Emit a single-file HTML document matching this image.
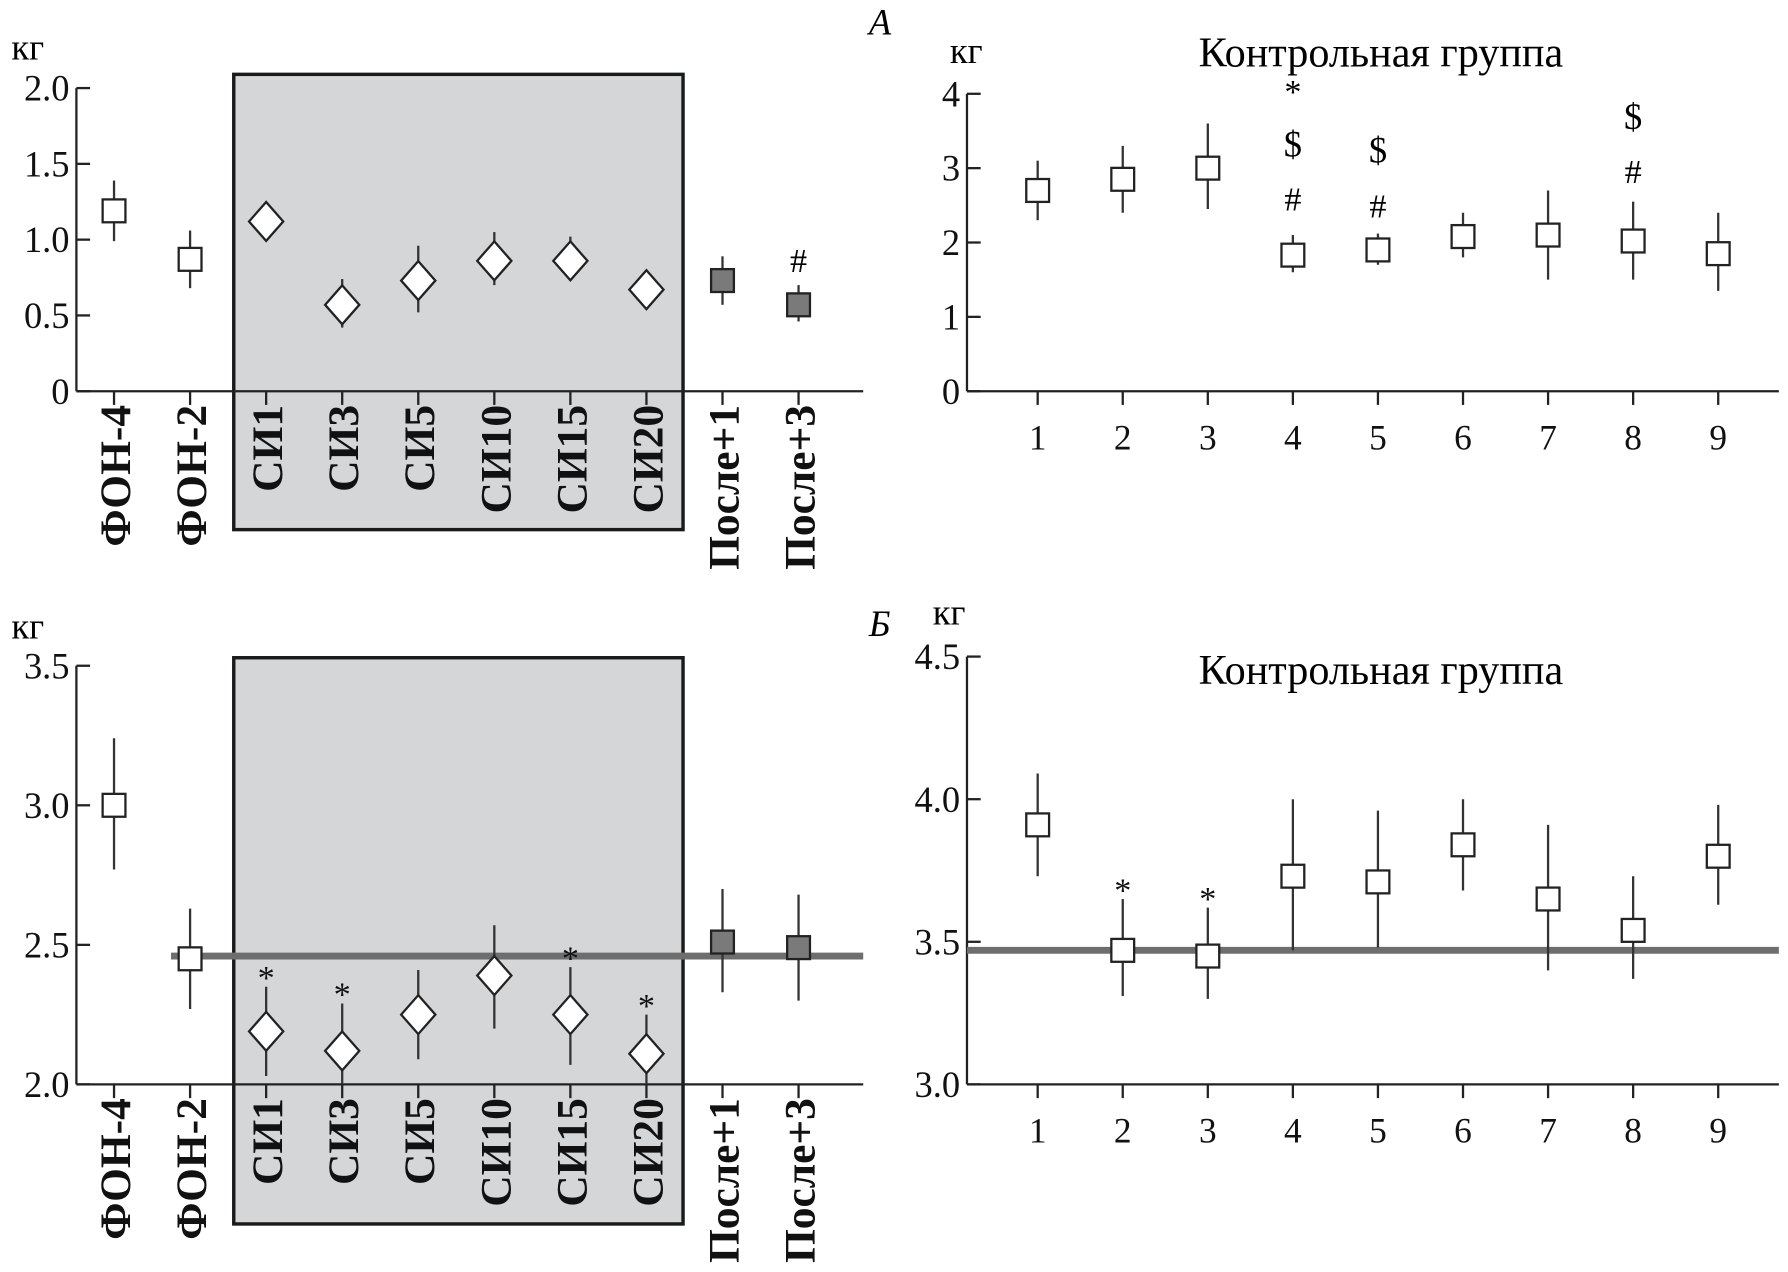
<!DOCTYPE html>
<html><head><meta charset="utf-8">
<style>
html,body{margin:0;padding:0;background:#fff;}
svg{display:block;font-family:"Liberation Serif","DejaVu Serif",serif;}
</style></head>
<body>
<svg id="c" width="1788" height="1272" viewBox="0 0 1568 1112" preserveAspectRatio="none" xmlns="http://www.w3.org/2000/svg"></svg>
<script>
const catsL = ["ФОН-4","ФОН-2","СИ1","СИ3","СИ5","СИ10","СИ15","СИ20","После+1","После+3"];
const typesL = ["sq","sq","dia","dia","dia","dia","dia","dia","fill","fill"];
const aLval = [1.19,0.87,1.12,0.57,0.73,0.86,0.86,0.67,0.73,0.57];
const aLlo  = [0.99,0.68,1.0,0.42,0.52,0.70,0.73,0.60,0.57,0.46];
const aLhi  = [1.39,1.06,1.24,0.74,0.96,1.05,1.02,0.80,0.89,0.70];
const aLyticks = [0,0.5,1.0,1.5,2.0];
const aLytickLabels = ["0","0.5","1.0","1.5","2.0"];
const bLval = [3.0,2.45,2.19,2.12,2.25,2.39,2.25,2.11,2.51,2.49];
const bLlo  = [2.77,2.27,2.03,2.0,2.09,2.2,2.07,2.0,2.33,2.3];
const bLhi  = [3.24,2.63,2.35,2.29,2.41,2.57,2.42,2.25,2.7,2.68];
const bLyticks = [2.0,2.5,3.0,3.5];
const bLytickLabels = ["2.0","2.5","3.0","3.5"];
const bLref = 2.46;
const bLstars = [2,3,6,7];
const catsR = ["1","2","3","4","5","6","7","8","9"];
const aRval = [2.7,2.85,3.0,1.83,1.9,2.08,2.1,2.02,1.85];
const aRlo  = [2.3,2.4,2.45,1.6,1.7,1.8,1.5,1.5,1.35];
const aRhi  = [3.1,3.3,3.6,2.1,2.12,2.4,2.7,2.55,2.4];
const aRyticks = [0,1,2,3,4];
const aRytickLabels = ["0","1","2","3","4"];
const bRval = [3.91,3.47,3.45,3.73,3.71,3.84,3.65,3.54,3.8];
const bRlo  = [3.73,3.31,3.3,3.47,3.48,3.68,3.4,3.37,3.63];
const bRhi  = [4.09,3.65,3.62,4.0,3.96,4.0,3.91,3.73,3.98];
const bRyticks = [3.0,3.5,4.0,4.5];
const bRytickLabels = ["3.0","3.5","4.0","4.5"];
const bRref = 3.47;
const bRstars = [1,2];

const NS="http://www.w3.org/2000/svg";
const svg=document.getElementById('c');
function el(tag,attrs,parent){const e=document.createElementNS(NS,tag);for(const k in attrs)e.setAttribute(k,attrs[k]);(parent||svg).appendChild(e);return e;}
function txt(s,attrs,parent){const e=el('text',attrs,parent);e.textContent=s;return e;}

function panel(o){
  const g=el('g',{});
  
  
  const y=v=>o.y0+(v-o.ymin)/(o.ymax-o.ymin)*(o.y1-o.y0);
  const x=i=>o.x0+i*o.dx;
  if(o.box){const b=el('rect',{x:205,y:o.box[0],width:394,height:o.box[1]-o.box[0],fill:'#d5d6d8',stroke:'#1a1a1a','stroke-width':3},g);
    }
  const ya=el('line',{x1:o.ax,y1:o.y0,x2:o.ax,y2:o.y1top,stroke:'#222','stroke-width':2},g);
  
  const xa=el('line',{x1:o.ax,y1:o.y0,x2:o.xend,y2:o.y0,stroke:'#222','stroke-width':2},g);
  
  o.yt.forEach((v,i)=>{
    el('line',{x1:o.ax,y1:y(v),x2:o.ax+12,y2:y(v),stroke:'#222','stroke-width':2},g);
    const t=txt(o.ytl[i],{x:o.ax-6,y:y(v)+11,'text-anchor':'end','font-size':32,fill:'#111'},g);
    
  });
  o.cats.forEach((c,i)=>{
    el('line',{x1:x(i),y1:o.y0,x2:x(i),y2:o.y0+12,stroke:'#222','stroke-width':2},g);
    let t;
    if(o.rot){t=txt(c,{x:0,y:0,transform:`translate(${x(i)+14},${o.y0+12}) rotate(-90)`,'text-anchor':'end','font-size':38,'font-weight':'bold',fill:'#111'},g);}
    else{t=txt(c,{x:x(i),y:o.y0+51,'text-anchor':'middle','font-size':31,fill:'#111'},g);}
    
  });
  if(o.ref!==undefined){const r=el('line',{x1:o.refx[0],y1:y(o.ref),x2:o.refx[1],y2:y(o.ref),stroke:'#6e6e6e','stroke-width':6},g);
    }
  o.val.forEach((v,i)=>{
    const cx=x(i),cy=y(v);
    const e=el('line',{x1:cx,y1:y(o.lo[i]),x2:cx,y2:y(o.hi[i]),stroke:'#333','stroke-width':2},g);
    
    const t=o.types?o.types[i]:'sq';let m;
    if(t==='dia'){m=el('polygon',{points:`${cx},${cy-17} ${cx+15},${cy} ${cx},${cy+17} ${cx-15},${cy}`,fill:'#fff',stroke:'#222','stroke-width':2},g);}
    else{m=el('rect',{x:cx-10,y:cy-10,width:20,height:20,fill:t==='fill'?'#7a7a7a':'#fff',stroke:'#222','stroke-width':2},g);}
    
  });
  (o.stars||[]).forEach(i=>{const s=txt('*',{x:x(i),y:y(o.hi[i])+2,'text-anchor':'middle','font-size':30,fill:'#111'},g);
    });
  return {x,y,g};
}

const pAL=panel({name:'panel-a-left',ax:67,x0:100,dx:66.7,y0:342,y1:77,y1top:77,ymin:0,ymax:2.0,xend:757,cats:catsL,types:typesL,val:aLval,lo:aLlo,hi:aLhi,yt:aLyticks,ytl:aLytickLabels,rot:true,box:[65,463]});
let t=txt('#',{x:pAL.x(9),y:238,'text-anchor':'middle','font-size':30},pAL.g);

const pAR=panel({name:'panel-a-right',ax:848,x0:910,dx:74.6,y0:342,y1:82,y1top:82,ymin:0,ymax:4,xend:1560,cats:catsR,val:aRval,lo:aRlo,hi:aRhi,yt:aRyticks,ytl:aRytickLabels});
[[3,'*',90],[3,'$',137],[3,'#',184],[4,'$',142],[4,'#',190],[7,'$',113],[7,'#',160]].forEach(a=>{
  const s=txt(a[1],{x:pAR.x(a[0]),y:a[2],'text-anchor':'middle','font-size':a[1]==='$'?32:30},pAR.g);
  });

const pBL=panel({name:'panel-b-left',ax:67,x0:100,dx:66.7,y0:948,y1:582,y1top:582,ymin:2.0,ymax:3.5,xend:757,cats:catsL,types:typesL,val:bLval,lo:bLlo,hi:bLhi,yt:bLyticks,ytl:bLytickLabels,rot:true,box:[575,1070],ref:bLref,refx:[150,757],stars:bLstars});
const pBR=panel({name:'panel-b-right',ax:848,x0:910,dx:74.6,y0:948,y1:574,y1top:574,ymin:3.0,ymax:4.5,xend:1560,cats:catsR,val:bRval,lo:bRlo,hi:bRhi,yt:bRyticks,ytl:bRytickLabels,ref:bRref,refx:[848,1560],stars:bRstars});

[['кг',10,52,'y-axis-unit-a-left'],['кг',833,55,'y-axis-unit-a-right'],['кг',10,558,'y-axis-unit-b-left'],['кг',818,546,'y-axis-unit-b-right']].forEach(a=>{
  const s=txt(a[0],{x:a[1],y:a[2],'font-size':32},svg);});
[['А',762,30,'panel-label-a'],['Б',762,556,'panel-label-b']].forEach(a=>{
  const s=txt(a[0],{x:a[1],y:a[2],'font-size':32,'font-style':'italic'},svg);});
[['Контрольная группа',1211,58,'chart-title-a'],['Контрольная группа',1211,598,'chart-title-b']].forEach(a=>{
  const s=txt(a[0],{x:a[1],y:a[2],'font-size':37,'text-anchor':'middle'},svg);});
</script>
</body></html>
